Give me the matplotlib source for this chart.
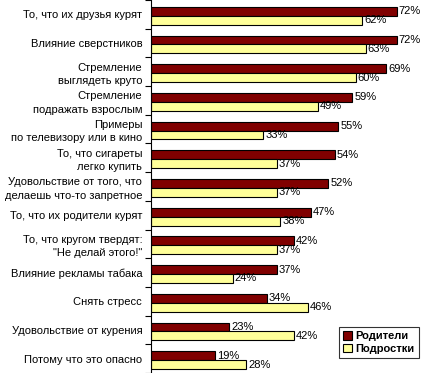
import numpy as np
import matplotlib.pyplot as plt

# Причины курения: мнение родителей и подростков
kategorii = [
    'То, что их друзья курят',
    'Влияние сверстников',
    'Стремление\nвыглядеть круто',
    'Стремление\nподражать взрослым',
    'Примеры\nпо телевизору или в кино',
    'То, что сигареты\nлегко купить',
    'Удовольствие от того, что\nделаешь что-то запретное',
    'То, что их родители курят',
    'То, что кругом твердят:\n"Не делай этого!"',
    'Влияние рекламы табака',
    'Снять стресс',
    'Удовольствие от курения',
    'Потому что это опасно',
]
roditeli = [72, 72, 69, 59, 55, 54, 52, 47, 42, 37, 34, 23, 19]
podrostki = [62, 63, 60, 49, 33, 37, 37, 38, 37, 24, 46, 42, 28]

plt.rcParams['font.family'] = ['Liberation Sans', 'DejaVu Sans']

fig = plt.figure(figsize=(4.29, 3.73), dpi=100)
ax = fig.add_axes([150.5 / 429, 0, (429 - 150.5) / 429, 1])

n = len(kategorii)
y = np.arange(n) + 0.05
h = 0.31

ax.barh(y - h / 2, roditeli, height=h, color='#800000', edgecolor='black',
        linewidth=0.8, label='Родители')
ax.barh(y + h / 2, podrostki, height=h, color='#FFFF99', edgecolor='black',
        linewidth=0.8, label='Подростки')

for i in range(n):
    ax.text(roditeli[i] + 0.6, y[i] - h / 2, f'{roditeli[i]}%', va='center',
            ha='left', fontsize=8)
    ax.text(podrostki[i] + 0.6, y[i] + h / 2, f'{podrostki[i]}%', va='center',
            ha='left', fontsize=8)

ax.set_xlim(0, 81.5)
ax.set_ylim(n - 0.5, -0.5)
ax.set_xticks([])

# деления на границах категорий, подписи в центрах
ax.set_yticks(np.arange(n + 1) - 0.5)
ax.set_yticklabels([])
ax.tick_params(axis='y', which='major', length=4, width=0.8, direction='out')
ax.set_yticks(np.arange(n), minor=True)
ax.set_yticklabels(kategorii, minor=True, fontsize=8, linespacing=1.4)
ax.tick_params(axis='y', which='minor', length=0, pad=6)

for s in ['top', 'right', 'bottom']:
    ax.spines[s].set_visible(False)
ax.spines['left'].set_linewidth(0.8)

leg = ax.legend(loc='lower right', bbox_to_anchor=(0.965, 0.04),
                prop={'weight': 'bold', 'size': 8}, frameon=True, fancybox=False,
                handlelength=0.8, handleheight=0.8, handletextpad=0.3,
                borderpad=0.4, labelspacing=0.2, borderaxespad=0)
leg.get_frame().set_edgecolor('black')
leg.get_frame().set_linewidth(0.8)

fig.savefig('out.png', dpi=100)
